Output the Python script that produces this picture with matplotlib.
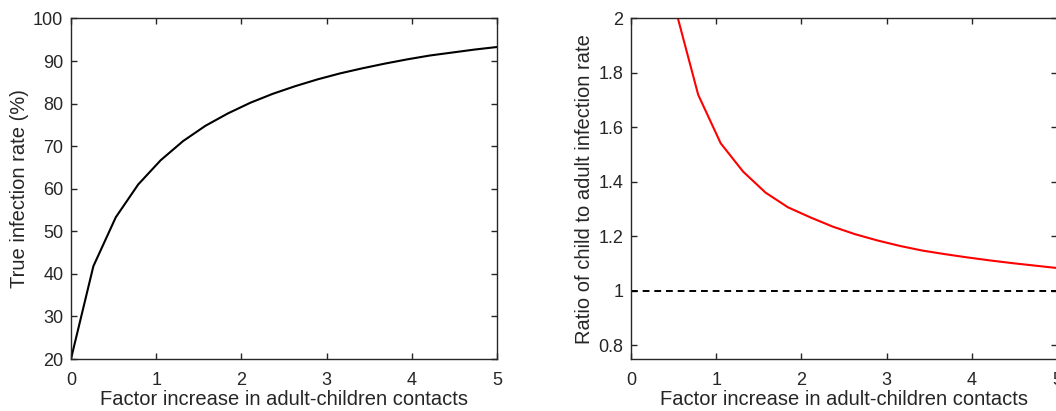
import numpy as np
import matplotlib
matplotlib.use("Agg")
import matplotlib.pyplot as plt

plt.rcParams['font.family'] = ['Liberation Sans', 'DejaVu Sans']

# factor increase in adult-children contacts (20 evenly spaced runs 0..5)
contact_factor = [0.000, 0.263, 0.526, 0.789, 1.053, 1.316, 1.579, 1.842, 2.105, 2.368,
                  2.632, 2.895, 3.158, 3.421, 3.684, 3.947, 4.211, 4.474, 4.737, 5.000]

# true infection rate (%)
infection_rate = [20.0, 41.8, 53.3, 61.0, 66.7, 71.2, 74.8, 77.7, 80.2, 82.3,
                  84.1, 85.7, 87.1, 88.3, 89.4, 90.4, 91.3, 92.0, 92.7, 93.3]

# ratio child / adult infection rate (first two are off the top of the axis)
child_adult_ratio = [4.0, 2.8, 2.03, 1.72, 1.542, 1.438, 1.361, 1.307, 1.27, 1.236,
                     1.208, 1.185, 1.165, 1.148, 1.135, 1.123, 1.112, 1.102, 1.093, 1.084]

dark = (0.15, 0.15, 0.15)
xlab = "Factor increase in adult-children contacts"

fig = plt.figure(figsize=(10.56, 4.11), dpi=100)
ax1 = fig.add_axes([0.0672, 0.1265, 0.4034, 0.8285])
ax2 = fig.add_axes([0.5975, 0.1265, 0.4034, 0.8285])

def style(ax):
    for s in ax.spines.values():
        s.set_color(dark)
        s.set_linewidth(1.0)
    ax.tick_params(direction='in', length=4, width=1.0, colors=dark,
                   labelsize=13, top=True, right=True)
    ax.tick_params(axis='x', pad=9)
    ax.tick_params(axis='y', pad=5.5)
    ax.set_xlabel(xlab, fontsize=14.5, color=dark, labelpad=1)

# left panel
ax1.plot(contact_factor, infection_rate, color='black', lw=1.5)
ax1.set_xlim(0, 5)
ax1.set_ylim(20, 100)
ax1.set_xticks(range(0, 6))
ax1.set_yticks(range(20, 101, 10))
ax1.set_ylabel("True infection rate (%)", fontsize=14.5, color=dark, labelpad=3)
style(ax1)

# right panel
ax2.plot(contact_factor, child_adult_ratio, color='red', lw=1.5)
ax2.axhline(1, color='black', lw=1.4, linestyle=(0, (3.5, 2.5)))
ax2.set_xlim(0, 5)
ax2.set_ylim(0.75, 2)
ax2.set_xticks(range(0, 6))
ax2.set_yticks([0.8, 1.0, 1.2, 1.4, 1.6, 1.8, 2.0])
ax2.set_yticklabels(["0.8", "1", "1.2", "1.4", "1.6", "1.8", "2"])
ax2.set_ylabel("Ratio of child to adult infection rate", fontsize=14.5, color=dark, labelpad=3)
style(ax2)

fig.savefig("out.png", dpi=100)
